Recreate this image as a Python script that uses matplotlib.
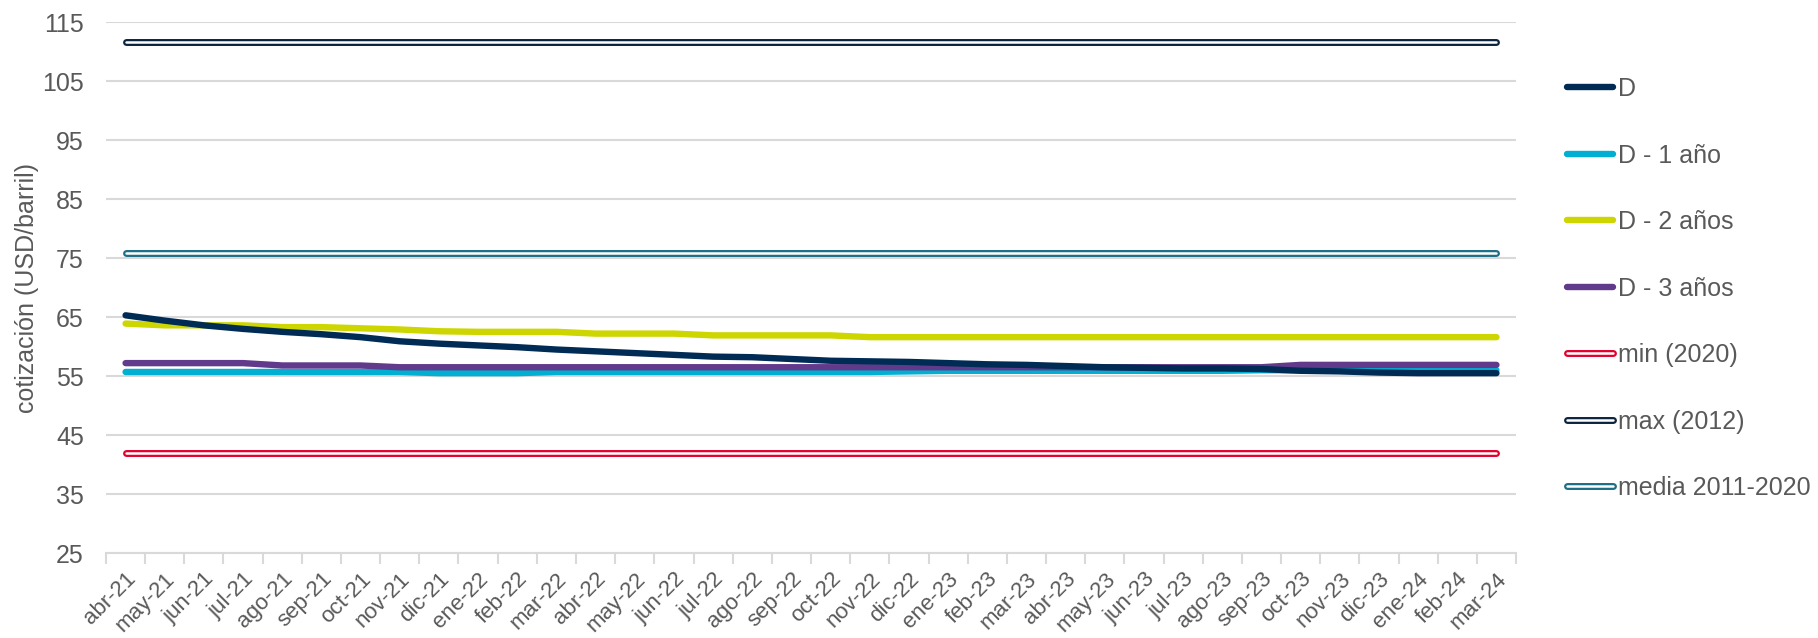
import matplotlib
matplotlib.use("Agg")
import matplotlib.pyplot as plt
import matplotlib.patheffects as pe
import numpy as np

plt.rcParams['font.family'] = ['Liberation Sans', 'DejaVu Sans']

meses = ["abr-21", "may-21", "jun-21", "jul-21", "ago-21", "sep-21", "oct-21", "nov-21",
         "dic-21", "ene-22", "feb-22", "mar-22", "abr-22", "may-22", "jun-22", "jul-22",
         "ago-22", "sep-22", "oct-22", "nov-22", "dic-22", "ene-23", "feb-23", "mar-23",
         "abr-23", "may-23", "jun-23", "jul-23", "ago-23", "sep-23", "oct-23", "nov-23",
         "dic-23", "ene-24", "feb-24", "mar-24"]

# Cotizaciones (USD/barril)
d = [65.3, 64.4, 63.6, 63.0, 62.5, 62.1, 61.6, 60.9, 60.5, 60.2, 59.9, 59.5,
     59.2, 58.9, 58.6, 58.3, 58.2, 57.9, 57.6, 57.5, 57.4, 57.2, 57.0, 56.9,
     56.7, 56.5, 56.4, 56.3, 56.3, 56.2, 55.9, 55.8, 55.6, 55.5, 55.5, 55.5]
d_1 = [55.7, 55.7, 55.7, 55.7, 55.7, 55.7, 55.7, 55.7, 55.5, 55.5, 55.5, 55.7,
       55.7, 55.7, 55.7, 55.7, 55.7, 55.7, 55.7, 55.7, 55.8, 55.9, 55.9, 55.9,
       55.9, 55.9, 55.9, 55.9, 55.9, 56.0, 56.0, 56.0, 56.0, 56.0, 56.0, 56.0]
d_2 = [63.9, 63.6, 63.6, 63.6, 63.3, 63.3, 63.1, 62.9, 62.6, 62.5, 62.5, 62.5,
       62.2, 62.2, 62.2, 61.9, 61.9, 61.9, 61.9, 61.6, 61.6, 61.6, 61.6, 61.6,
       61.6, 61.6, 61.6, 61.6, 61.6, 61.6, 61.6, 61.6, 61.6, 61.6, 61.6, 61.6]
d_3 = [57.2, 57.2, 57.2, 57.2, 56.8, 56.8, 56.8, 56.5, 56.5, 56.5, 56.5, 56.5,
       56.5, 56.5, 56.5, 56.5, 56.5, 56.5, 56.5, 56.5, 56.5, 56.5, 56.5, 56.5,
       56.5, 56.5, 56.5, 56.5, 56.5, 56.5, 56.9, 56.9, 56.9, 56.9, 56.9, 56.9]
minimo = 41.9   # min (2020)
maximo = 111.6  # max (2012)
media = 75.8    # media 2011-2020

gris = "#595959"
x = np.arange(len(meses))

fig = plt.figure(figsize=(18.18, 6.38), dpi=100)
ax = fig.add_axes([0.0583, 0.133, 0.7756, 0.8325])

# Líneas de referencia (doble línea)
refs = [(minimo, "#E4002B", "min (2020)"),
        (maximo, "#0C2340", "max (2012)"),
        (media, "#1B6F86", "media 2011-2020")]
ref_lines = []
for val, col, lab in refs:
    ln, = ax.plot(x, [val] * len(x), color="white", lw=1.8, solid_capstyle="round",
                  path_effects=[pe.Stroke(linewidth=5, foreground=col), pe.Normal()],
                  label=lab, zorder=3)
    ref_lines.append(ln)

series = [(d, "#002B55", "D"),
          (d_1, "#00AFD2", "D - 1 año"),
          (d_2, "#CDD600", "D - 2 años"),
          (d_3, "#623A8C", "D - 3 años")]
main_lines = []
for vals, col, lab in series:
    ln, = ax.plot(x, vals, color=col, lw=4.6, solid_capstyle="round", label=lab, zorder=4)
    main_lines.append(ln)
# orden de dibujo como en el original
main_lines[0].set_zorder(4.3)
main_lines[3].set_zorder(4.2)

ax.set_xlim(-0.5, len(x) - 0.5)
ax.set_ylim(25, 115)
ax.set_yticks(np.arange(25, 116, 10))
ax.grid(axis="y", color="#D9D9D9", lw=1.5)
ax.set_axisbelow(True)

ax.set_xticks(x)
ax.set_xticklabels(meses, rotation=45, ha="right", rotation_mode="anchor")
ax.set_xticks(np.arange(-0.5, len(x), 1), minor=True)
ax.tick_params(axis="x", which="major", length=0, pad=11, labelsize=16, labelcolor=gris)
ax.tick_params(axis="x", which="minor", length=8, width=1.5, color="#D9D9D9")
ax.tick_params(axis="y", length=0, pad=16, labelsize=18, labelcolor=gris)

for s in ["top", "right", "left"]:
    ax.spines[s].set_visible(False)
ax.spines["bottom"].set_color("#D9D9D9")
ax.spines["bottom"].set_linewidth(1.5)

ax.set_ylabel("cotización (USD/barril)", fontsize=18, color=gris, labelpad=2)

handles = main_lines + ref_lines
fig.legend(handles, [h.get_label() for h in handles],
           loc="upper left", bbox_to_anchor=(0.862, 0.879), frameon=False,
           fontsize=18, labelcolor=gris, handlelength=1.85, handletextpad=0.2,
           labelspacing=1.70, borderpad=0, borderaxespad=0)

fig.savefig("out.png", dpi=100)
